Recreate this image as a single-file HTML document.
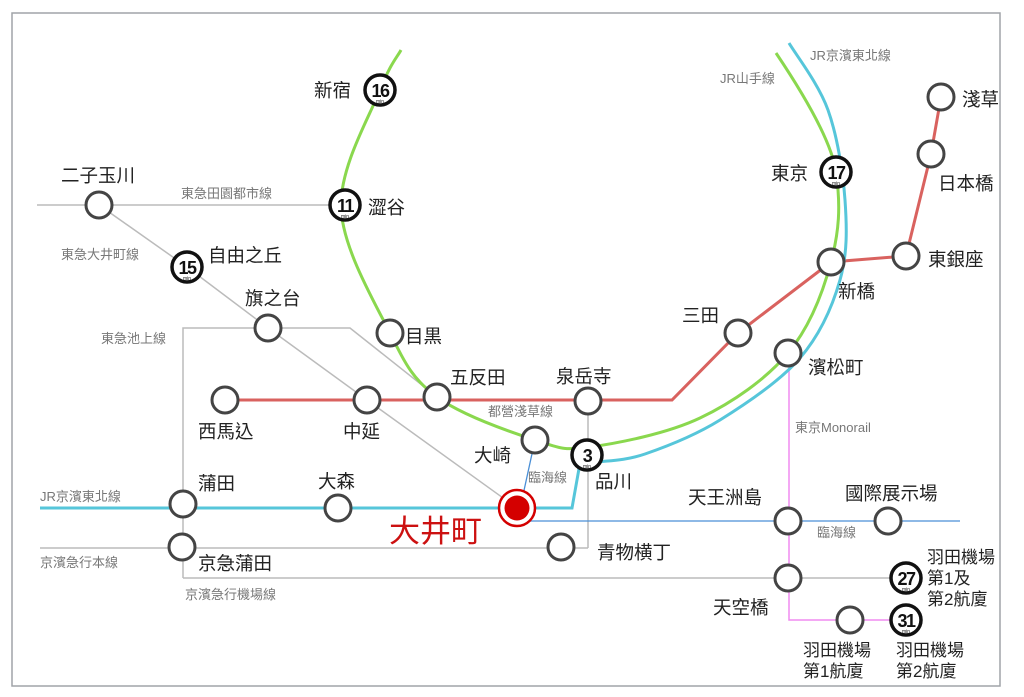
<!DOCTYPE html>
<html><head><meta charset="utf-8"><style>
html,body{margin:0;padding:0;background:#fff}
svg{display:block}
text{font-family:"Liberation Sans","Noto Sans CJK TC",sans-serif}
.s{font-size:18.5px;fill:#222}
.g{font-size:13px;fill:#777}
.n{font-size:18px;font-weight:bold;fill:#111;text-anchor:middle;letter-spacing:-1.5px}
.m{font-size:5px;fill:#111;text-anchor:middle}
</style></head><body>
<svg width="1024" height="697" viewBox="0 0 1024 697" xmlns="http://www.w3.org/2000/svg">
<rect x="12" y="13" width="988" height="673" fill="#fff" stroke="#a0a4a8" stroke-width="1.5"/>
<g stroke="#bbb" stroke-width="1.5" fill="none">
<line x1="37" y1="205" x2="345" y2="205"/>
<polyline points="99,205 187,267 268,328 367,400 517,508"/>
<polyline points="183,578 183,328 268,328 350,328 437,397"/>
<line x1="40" y1="548" x2="588" y2="548"/>
<line x1="588" y1="548" x2="588" y2="400"/>
<line x1="183" y1="578" x2="906" y2="578"/>
</g>
<g stroke="#4a8fd6" stroke-width="1.3" fill="none">
<polyline points="535,440 523,495 517,508"/>
<line x1="517" y1="521" x2="960" y2="521"/>
</g>
<polyline points="789,353 789,620 906,620" stroke="#f08cf0" stroke-width="1.5" fill="none"/>
<polyline points="225,400 672,400 738,333 831,262 906,256 931,154 941,97" stroke="#d9625f" stroke-width="3" fill="none"/>
<path d="M401,50 C397.5,56.7 390,64.2 380,90 C370,115.8 341,164.5 341,205 C341,245.5 374,301 390,333 C406,365 412.8,379.2 437,397 C461.2,414.8 509.5,431.7 535,440 C560.5,448.3 562.5,450.7 590,447 C617.5,443.3 667,433.7 700,418 C733,402.3 766.2,379 788,353 C809.8,327 823,292.2 831,262 C839,231.8 841,206.8 836,172 C831,137.2 796,82.8 776,53" stroke="#8ad84e" stroke-width="3" fill="none"/>
<path d="M789,43 C795.5,54.2 818.7,83.8 828,110 C837.3,136.2 843,171.7 845,200 C847,228.3 847.5,253.7 840,280 C832.5,306.3 820,334.7 800,358 C780,381.3 745.8,404 720,420 C694.2,436 665.3,447 645,454 C624.7,461 605.8,460.7 598,462 L580,463 L572,508 L40,508" stroke="#56c6da" stroke-width="3" fill="none"/>
<g fill="#fff" stroke="#444" stroke-width="3">
<circle cx="99" cy="205" r="13"/><circle cx="268" cy="328" r="13"/><circle cx="390" cy="333" r="13"/>
<circle cx="225" cy="400" r="13"/><circle cx="367" cy="400" r="13"/><circle cx="437" cy="397" r="13"/>
<circle cx="588" cy="401" r="13"/><circle cx="535" cy="440" r="13"/><circle cx="183" cy="504" r="13"/>
<circle cx="338" cy="508" r="13"/><circle cx="182" cy="547" r="13"/><circle cx="561" cy="547" r="13"/>
<circle cx="738" cy="333" r="13"/><circle cx="788" cy="353" r="13"/><circle cx="831" cy="262" r="13"/>
<circle cx="906" cy="256" r="13"/><circle cx="931" cy="154" r="13"/><circle cx="941" cy="97" r="13"/>
<circle cx="788" cy="521" r="13"/><circle cx="888" cy="521" r="13"/><circle cx="788" cy="578" r="13"/>
<circle cx="850" cy="620" r="13"/>
</g>
<g fill="#fff" stroke="#111" stroke-width="3.5">
<circle cx="380" cy="90" r="15"/><circle cx="345" cy="205" r="15"/><circle cx="187" cy="267" r="15"/>
<circle cx="836" cy="172" r="15"/><circle cx="587" cy="455" r="15"/><circle cx="906" cy="578" r="15"/>
<circle cx="906" cy="620" r="15"/>
</g>
<text class="n" x="380" y="97">16</text><text class="m" x="380" y="103">min</text>
<text class="n" x="345" y="212">11</text><text class="m" x="345" y="218">min</text>
<text class="n" x="187" y="274">15</text><text class="m" x="187" y="280">min</text>
<text class="n" x="836" y="179">17</text><text class="m" x="836" y="185">min</text>
<text class="n" x="587" y="462">3</text><text class="m" x="587" y="468">min</text>
<text class="n" x="906" y="585">27</text><text class="m" x="906" y="591">min</text>
<text class="n" x="906" y="627">31</text><text class="m" x="906" y="633">min</text>
<circle cx="517" cy="508" r="18" fill="#fff" stroke="#d40000" stroke-width="2.5"/>
<circle cx="517" cy="508" r="12.5" fill="#d40000"/>
<g class="s">
<text x="314" y="97">新宿</text><text x="368" y="214">澀谷</text><text x="61" y="182">二子玉川</text>
<text x="208" y="262">自由之丘</text><text x="245" y="305">旗之台</text><text x="405" y="343">目黒</text>
<text x="450" y="384">五反田</text><text x="198" y="438">西馬込</text><text x="343" y="438">中延</text>
<text x="556" y="383">泉岳寺</text><text x="474" y="462">大崎</text><text x="595" y="488">品川</text>
<text x="198" y="490">蒲田</text><text x="318" y="488">大森</text><text x="198" y="570">京急蒲田</text>
<text x="597" y="559">青物横丁</text><text x="962" y="106">淺草</text><text x="938" y="190">日本橋</text>
<text x="771" y="180">東京</text><text x="928" y="266">東銀座</text><text x="838" y="298">新橋</text>
<text x="682" y="322">三田</text><text x="808" y="374">濱松町</text><text x="688" y="504">天王洲島</text>
<text x="845" y="500">國際展示場</text><text x="713" y="614">天空橋</text>
<text x="927" y="563" style="font-size:17px">羽田機場</text><text x="927" y="584" style="font-size:17px">第1及</text><text x="927" y="605" style="font-size:17px">第2航廈</text>
<text x="803" y="656" style="font-size:17px">羽田機場</text><text x="803" y="677" style="font-size:17px">第1航廈</text>
<text x="896" y="656" style="font-size:17px">羽田機場</text><text x="896" y="677" style="font-size:17px">第2航廈</text>
</g>
<text x="389" y="542" style="font-size:31px;fill:#cc1111">大井町</text>
<g class="g">
<text x="181" y="198">東急田園都市線</text><text x="61" y="259">東急大井町線</text><text x="101" y="343">東急池上線</text>
<text x="488" y="416">都營淺草線</text><text x="528" y="482">臨海線</text><text x="40" y="501">JR京濱東北線</text>
<text x="40" y="567">京濱急行本線</text><text x="185" y="599">京濱急行機場線</text><text x="720" y="83">JR山手線</text>
<text x="810" y="60">JR京濱東北線</text><text x="795" y="432">東京Monorail</text><text x="817" y="537">臨海線</text>
</g>
</svg>
</body></html>
